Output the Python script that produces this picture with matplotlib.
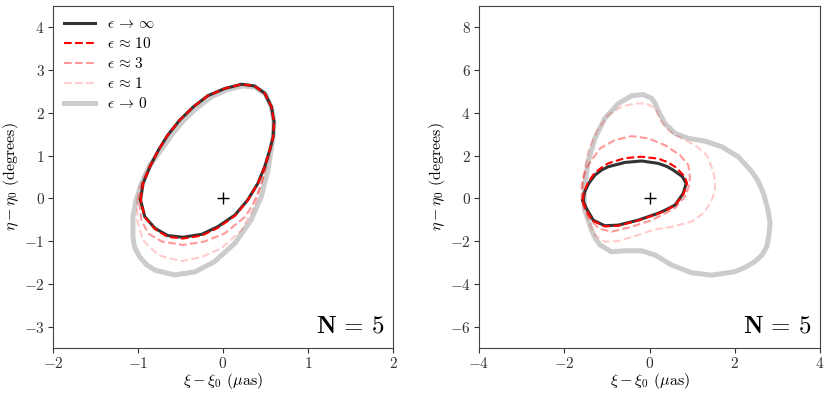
import matplotlib
matplotlib.use("Agg")
import matplotlib.pyplot as plt
from matplotlib.ticker import FuncFormatter
import numpy as np

plt.rcParams['mathtext.fontset'] = 'cm'
plt.rcParams['font.family'] = ['DejaVu Serif']

# ---- left panel (N = 5, small offsets) ----
left_inf_x = [-0.97, -0.94, -0.86, -0.76, -0.65, -0.51, -0.35, -0.18, 0.02, 0.22, 0.37, 0.49,
              0.57, 0.60, 0.59, 0.55, 0.49, 0.41, 0.29, 0.14, -0.06, -0.25, -0.47, -0.65,
              -0.80, -0.92]
left_inf_y = [-0.04, 0.35, 0.74, 1.13, 1.48, 1.83, 2.14, 2.40, 2.57, 2.67, 2.63, 2.46,
              2.14, 1.79, 1.44, 1.13, 0.74, 0.35, -0.04, -0.39, -0.66, -0.84, -0.91, -0.87,
              -0.70, -0.43]

left_e10_x = [-0.97, -0.94, -0.86, -0.76, -0.65, -0.51, -0.35, -0.18, 0.02, 0.22, 0.37, 0.49,
              0.57, 0.60, 0.59, 0.55, 0.49, 0.41, 0.29, 0.14, -0.06, -0.25, -0.47, -0.65,
              -0.80, -0.92]
left_e10_y = [-0.04, 0.35, 0.74, 1.13, 1.48, 1.83, 2.14, 2.40, 2.57, 2.67, 2.63, 2.46,
              2.14, 1.79, 1.44, 1.13, 0.74, 0.35, -0.05, -0.41, -0.69, -0.87, -0.94, -0.90,
              -0.72, -0.44]

left_e3_x = [-0.99, -0.95, -0.86, -0.76, -0.65, -0.51, -0.35, -0.18, 0.02, 0.22, 0.37, 0.49,
             0.57, 0.60, 0.59, 0.55, 0.50, 0.46, 0.41, 0.35, 0.26, 0.02, -0.22, -0.47,
             -0.72, -0.88, -0.96]
left_e3_y = [-0.04, 0.35, 0.74, 1.13, 1.48, 1.83, 2.14, 2.40, 2.57, 2.67, 2.63, 2.46,
             2.14, 1.79, 1.44, 1.13, 0.74, 0.40, 0.12, -0.15, -0.43, -0.82, -1.01, -1.09,
             -1.01, -0.82, -0.51]

left_e1_x = [-1.01, -0.98, -0.90, -0.76, -0.65, -0.51, -0.35, -0.18, 0.02, 0.22, 0.37, 0.49,
             0.57, 0.60, 0.59, 0.56, 0.52, 0.45, 0.37, 0.22, -0.02, -0.25, -0.49, -0.76,
             -0.94, -1.01]
left_e1_y = [-0.04, 0.27, 0.65, 1.13, 1.48, 1.83, 2.14, 2.40, 2.57, 2.67, 2.63, 2.46,
             2.14, 1.79, 1.44, 1.10, 0.78, 0.35, -0.20, -0.74, -1.17, -1.37, -1.47, -1.33,
             -0.98, -0.51]

left_zero_x = [-1.02, -0.96, -0.86, -0.72, -0.60, -0.46, -0.30, -0.13, 0.05, 0.23, 0.38, 0.50,
               0.57, 0.60, 0.59, 0.56, 0.53, 0.45, 0.33, 0.14, -0.10, -0.33, -0.57, -0.80,
               -0.90, -0.98, -1.04, -1.06, -1.06]
left_zero_y = [-0.04, 0.35, 0.78, 1.15, 1.50, 1.83, 2.13, 2.38, 2.54, 2.63, 2.60, 2.44,
               2.13, 1.79, 1.44, 1.05, 0.66, 0.04, -0.51, -1.05, -1.48, -1.72, -1.79, -1.68,
               -1.55, -1.37, -1.15, -0.90, -0.43]

# ---- right panel (N = 5, large offsets) ----
right_inf_x = [-1.56, -1.52, -1.42, -1.28, -1.13, -0.97, -0.58, -0.19, 0.20, 0.40, 0.56, 0.77,
               0.86, 0.79, 0.60, 0.40, 0.20, -0.27, -0.73, -1.05, -1.32, -1.48]
right_inf_y = [-0.10, 0.31, 0.72, 1.09, 1.32, 1.48, 1.68, 1.75, 1.64, 1.50, 1.32, 1.02,
               0.70, 0.23, -0.31, -0.52, -0.70, -1.02, -1.25, -1.28, -1.02, -0.47]

right_e10_x = [-1.57, -1.53, -1.44, -1.30, -1.14, -0.97, -0.58, -0.19, 0.20, 0.42, 0.62, 0.83,
               0.88, 0.80, 0.60, 0.40, 0.20, -0.27, -0.73, -1.05, -1.34, -1.50]
right_e10_y = [-0.10, 0.33, 0.76, 1.15, 1.42, 1.64, 1.88, 1.95, 1.86, 1.70, 1.45, 1.01,
               0.70, 0.22, -0.33, -0.54, -0.72, -1.04, -1.28, -1.31, -1.04, -0.48]

right_e3_x = [-1.59, -1.59, -1.53, -1.44, -1.16, -0.81, -0.42, -0.03, 0.36, 0.71, 0.91, 0.95,
              0.92, 0.84, 0.60, 0.32, 0.05, -0.42, -0.89, -1.20, -1.40, -1.53]
right_e3_y = [-0.10, 0.62, 1.10, 1.56, 2.34, 2.73, 2.91, 2.81, 2.49, 2.03, 1.56, 1.00,
              0.55, 0.10, -0.45, -0.75, -1.02, -1.33, -1.56, -1.40, -0.94, -0.50]

right_e1_x = [-1.56, -1.56, -1.44, -1.24, -0.97, -0.65, -0.34, -0.07, 0.13, 0.28, 0.48, 0.75,
              1.07, 1.34, 1.50, 1.54, 1.53, 1.46, 1.30, 0.99, 0.52, 0.13, -0.34, -0.73,
              -1.05, -1.28, -1.44]
right_e1_y = [-0.08, 0.94, 2.18, 3.12, 3.90, 4.29, 4.44, 4.44, 4.21, 3.58, 3.12, 2.81,
              2.49, 2.03, 1.25, 0.75, 0.31, -0.08, -0.63, -1.09, -1.33, -1.45, -1.76, -2.00,
              -2.03, -1.72, -1.02]

right_zero_x = [-1.54, -1.52, -1.44, -1.28, -1.05, -0.73, -0.42, -0.15, 0.05, 0.13, 0.20, 0.36,
                0.60, 0.91, 1.30, 1.69, 2.08, 2.40, 2.55, 2.68, 2.78, 2.83, 2.80, 2.75,
                2.64, 2.47, 2.25, 2.00, 1.46, 0.99, 0.52, 0.13, -0.19, -0.58, -0.89, -1.16,
                -1.27, -1.36, -1.52]
right_zero_y = [0.00, 0.62, 1.71, 2.81, 3.74, 4.44, 4.80, 4.86, 4.68, 4.45, 4.13, 3.51,
                3.04, 2.81, 2.68, 2.42, 1.95, 1.25, 0.80, 0.20, -0.55, -1.17, -1.75, -2.26,
                -2.65, -2.96, -3.22, -3.43, -3.59, -3.48, -3.12, -2.65, -2.45, -2.45, -2.50, -2.18,
                -1.88, -1.48, -0.55]

labels = [r'$\epsilon \,\rightarrow\, \infty$', r'$\epsilon \,\approx\, 10$',
          r'$\epsilon \,\approx\, 3$', r'$\epsilon \,\approx\, 1$',
          r'$\epsilon \,\rightarrow\, 0$']
left_xticks = [-2, -1, 0, 1, 2]
left_yticks = [-3, -2, -1, 0, 1, 2, 3, 4]
right_xticks = [-4, -2, 0, 2, 4]
right_yticks = [-6, -4, -2, 0, 2, 4, 6, 8]

tick_fmt = FuncFormatter(lambda v, pos: r'$%g$' % v)


def closed(xs, ys):
    return np.append(xs, xs[0]), np.append(ys, ys[0])


def draw_panel(ax, curves):
    zero, e1, e3, e10, inf = curves
    h0, = ax.plot(*closed(*zero), color='#cccccc', lw=3.6, solid_joinstyle='round')
    h1, = ax.plot(*closed(*e1), color='red', alpha=0.2, lw=1.5, ls='--')
    h3, = ax.plot(*closed(*e3), color='red', alpha=0.4, lw=1.5, ls='--')
    hinf, = ax.plot(*closed(*inf), color='#333333', lw=2.2, solid_joinstyle='round')
    h10, = ax.plot(*closed(*e10), color='red', lw=1.5, ls='--')
    ax.plot(0, 0, marker='+', color='black', markersize=9, markeredgewidth=1.0)
    ax.text(0.975, 0.03, r'$\mathbf{N}\,\mathbf{=}\,\mathbf{5}$', transform=ax.transAxes,
            ha='right', va='bottom', fontsize=18)
    ax.set_xlabel(r'$\xi - \xi_0\ (\mu\mathrm{as})$', fontsize=11.5, labelpad=0)
    ax.set_ylabel(r'$\eta - \eta_0\ (\mathrm{degrees})$', fontsize=11.5, labelpad=2)
    ax.xaxis.set_major_formatter(tick_fmt)
    ax.yaxis.set_major_formatter(tick_fmt)
    ax.tick_params(labelsize=11, colors='#333333', length=3.5, pad=2.5)
    for s in ax.spines.values():
        s.set_color('#444444')
    return [hinf, h10, h3, h1, h0]


fig = plt.figure(figsize=(8.31, 3.94), dpi=100)
ax1 = fig.add_axes([53 / 831, 46 / 394, 340 / 831, 342 / 394])
ax2 = fig.add_axes([479 / 831, 46 / 394, 341 / 831, 342 / 394])

handles = draw_panel(ax1, [(left_zero_x, left_zero_y), (left_e1_x, left_e1_y),
                           (left_e3_x, left_e3_y), (left_e10_x, left_e10_y),
                           (left_inf_x, left_inf_y)])
draw_panel(ax2, [(right_zero_x, right_zero_y), (right_e1_x, right_e1_y),
                 (right_e3_x, right_e3_y), (right_e10_x, right_e10_y),
                 (right_inf_x, right_inf_y)])

ax1.set_xlim(-2, 2)
ax1.set_ylim(-3.5, 4.5)
ax1.set_xticks(left_xticks)
ax1.set_yticks(left_yticks)
ax2.set_xlim(-4, 4)
ax2.set_ylim(-7, 9)
ax2.set_xticks(right_xticks)
ax2.set_yticks(right_yticks)

ax1.legend(handles, labels, loc='upper left', frameon=False, fontsize=11,
           handlelength=2.0, labelspacing=0.32, borderaxespad=0.35, handletextpad=0.8)

fig.savefig('out.png', dpi=100)
